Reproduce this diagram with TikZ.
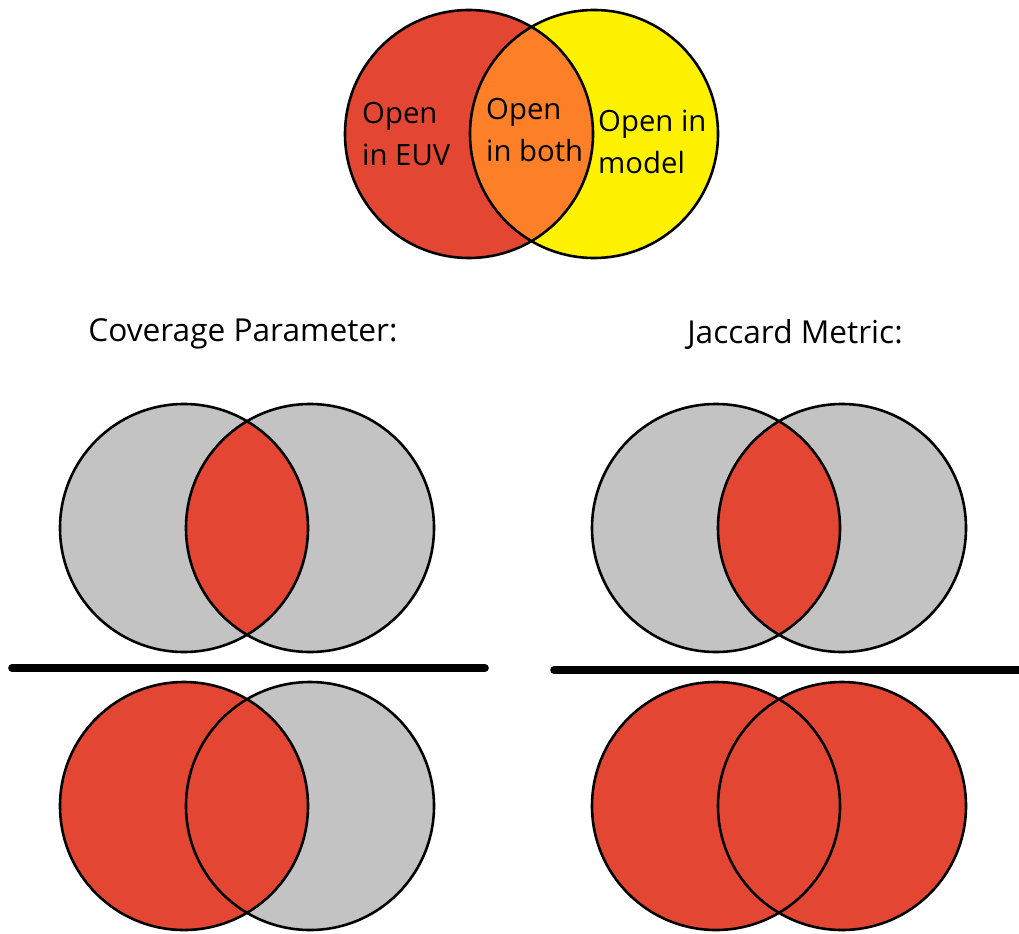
\documentclass[tikz,border=0pt]{standalone}
\usepackage{fontspec}
\setmainfont{Open Sans}
\definecolor{euvred}{RGB}{227,71,51}
\definecolor{bothorange}{RGB}{253,127,39}
\definecolor{modelyellow}{RGB}{255,242,0}
\definecolor{lightgray}{RGB}{195,195,195}
\begin{document}
\begin{tikzpicture}[x=0.03cm,y=-0.03cm,
  ring/.style={draw=black,line width=2.2pt},
  bar/.style={line width=6.5pt,line cap=round},
  title/.style={font=\fontsize{27}{32}\selectfont,inner sep=0pt},
  lbl/.style={font=\fontsize{25}{36}\selectfont,inner sep=0pt,align=left,anchor=west}]
\useasboundingbox (0,0) rectangle (1019,933);

% ---- top diagram: EUV vs model ----
\fill[euvred] (469,134) circle [radius=124];
\fill[modelyellow] (594,134) circle [radius=124];
\begin{scope}
  \clip (469,134) circle [radius=124];
  \fill[bothorange] (594,134) circle [radius=124];
\end{scope}
\draw[ring] (469,134) circle [radius=124];
\draw[ring] (594,134) circle [radius=124];
\node[lbl] (euv) at (362,134) {Open\\in EUV};
\node[lbl] (both) at (486,130) {Open\\in both};
\node[lbl] (model) at (598,142) {Open in\\model};

% ---- headings ----
\node[title] (cov) at (243,334) {Coverage Parameter:};
\node[title] (jac) at (795,334) {Jaccard Metric:};

% ---- coverage: numerator ----
\fill[lightgray] (184,528) circle [radius=124];
\fill[lightgray] (310,528) circle [radius=124];
\begin{scope}
  \clip (184,528) circle [radius=124];
  \fill[euvred] (310,528) circle [radius=124];
\end{scope}
\draw[ring] (184,528) circle [radius=124];
\draw[ring] (310,528) circle [radius=124];
\draw[bar] (12,668) -- (485,668);
% ---- coverage: denominator ----
\fill[lightgray] (310,806) circle [radius=124];
\fill[euvred] (184,806) circle [radius=124];
\draw[ring] (184,806) circle [radius=124];
\draw[ring] (310,806) circle [radius=124];

% ---- jaccard: numerator ----
\fill[lightgray] (716,528) circle [radius=124];
\fill[lightgray] (842,528) circle [radius=124];
\begin{scope}
  \clip (716,528) circle [radius=124];
  \fill[euvred] (842,528) circle [radius=124];
\end{scope}
\draw[ring] (716,528) circle [radius=124];
\draw[ring] (842,528) circle [radius=124];
\draw[bar] (554,670) -- (1030,670);
% ---- jaccard: denominator ----
\fill[euvred] (716,806) circle [radius=124];
\fill[euvred] (842,806) circle [radius=124];
\draw[ring] (716,806) circle [radius=124];
\draw[ring] (842,806) circle [radius=124];
\end{tikzpicture}
\end{document}
